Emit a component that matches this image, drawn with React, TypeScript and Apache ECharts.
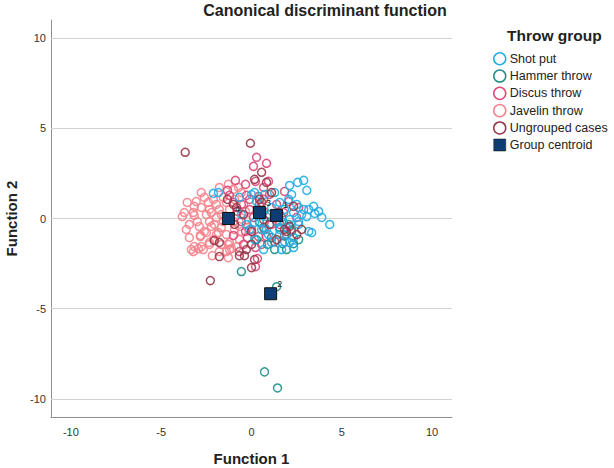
import React, { useEffect, useRef } from "react";
import * as echarts from "echarts";

const FONT = '"Liberation Sans", Arial, Helvetica, sans-serif';

// Axis tick / gridline values
const tickValues = [-10, -5, 0, 5, 10];

// Series colours
const colorShot = "#22ADE4";
const colorHammer = "#1F8E8A";
const colorDiscus = "#DC4676";
const colorJavelin = "#F7828C";
const colorUngrouped = "#98384A";
const colorCentroid = "#0D3D72";

// Data: [Function 1, Function 2]
const shotPut: number[][] = [
  [2.11, 1.83], [2.89, 2.11], [3.06, 1.56], [1.28, 1.44], [0.17, 1.44], [2.06, 1.06],
  [3.17, 0.5], [3.72, 0.39], [1.56, 0.89], [4.33, -0.33], [3.33, -0.78], [2.11, -0.06],
  [2.61, -0.33], [3.06, 0.11], [3.5, 0.28], [1.94, -0.5], [1.56, -0.89], [2.11, -1.33],
  [2.33, -1.06], [2.33, -1.61], [0.83, -0.61], [0.44, -0.22], [-0.11, -0.61], [0.83, 0.11],
  [1.39, -0.17], [1.56, -0.61], [0.17, -1.17], [1.11, -1.33], [-1.83, 1.44], [0.0, 1.33],
  [0.28, 0.94], [0.72, 1.33], [2.22, 1.33], [2.56, 2.0], [1.78, -0.22], [2.61, -0.17],
  [2.89, 0.5], [3.17, -0.72], [1.83, -1.28], [0.56, -0.61], [0.94, -0.89], [0.17, -0.22],
  [-2.11, 1.39], [1.11, 0.61], [1.83, 0.5], [2.5, 0.78], [2.78, 0.22], [3.89, 0.06],
  [-0.56, 0.22], [-0.28, -0.33], [0.67, -1.72], [1.67, -1.72], [2.33, 0.33], [3.44, 0.67],
  [-0.67, 1.17],
];

const hammerThrow: number[][] = [
  [0.89, -1.44], [1.72, -1.39], [1.83, -0.94], [2.33, -1.39], [0.44, -0.17], [0.67, -0.5],
  [1.56, -0.5], [2.22, -0.72], [-0.56, -2.94], [1.39, -3.78], [0.72, -8.5], [1.44, -9.39],
  [1.11, -1.06], [2.06, -0.33], [2.61, -1.17], [0.28, -1.17], [1.28, -1.72], [1.94, -1.72],
  [1.0, 0.22], [1.67, 0.06],
];

const discusThrow: number[][] = [
  [0.11, 2.89], [0.28, 3.39], [0.83, 3.06], [0.94, 2.06], [0.67, 1.72], [0.39, 1.22],
  [1.0, 1.33], [1.83, 1.5], [2.06, 0.94], [2.61, 0.61], [2.5, 0.06], [1.78, 0.33],
  [1.11, -0.33], [0.72, -0.61], [0.39, -1.0], [0.0, -0.61], [0.33, -2.22], [0.83, -1.0],
  [1.28, -1.28], [2.22, -0.61], [-0.28, 1.28], [-0.56, 0.78], [-0.11, 0.5], [0.11, 0.06],
  [-0.22, -1.06], [-0.44, -1.44], [-0.67, -1.83], [-1.0, 0.89], [-0.78, 0.39], [0.44, 0.78],
  [0.67, 0.39], [1.39, 0.78], [1.56, -0.33], [1.94, -0.89], [0.22, -1.61], [0.56, -1.44],
  [-1.22, 1.28], [-0.89, 2.11], [-0.33, 1.89], [0.22, 2.06], [0.67, 1.06], [-0.11, 1.06],
  [-0.56, -0.17], [-0.33, -0.72], [-1.0, -0.94], [0.22, -2.67], [-1.33, 1.56],
];

const javelinThrow: number[][] = [
  [-3.83, 0.11], [-3.17, 0.17], [-2.83, -0.94], [-2.5, -0.78], [-3.22, -1.83], [-2.94, -1.67],
  [-2.67, -1.72], [-2.33, -1.44], [-2.11, -1.17], [-1.83, -0.78], [-1.67, -0.5], [-1.39, -0.89],
  [-1.22, -1.33], [-1.11, -1.67], [-1.39, -1.83], [-2.06, -0.33], [-2.33, -0.17], [-2.22, 0.33],
  [-1.67, 0.22], [-1.94, 0.06], [-0.94, -0.61], [-0.67, -0.44], [-0.67, -1.17], [-2.78, 1.44],
  [-2.61, 1.17], [-3.06, 0.94], [-3.17, 0.67], [-2.78, 0.61], [-2.39, 0.89], [-2.11, 1.06],
  [-1.56, 1.17], [-1.39, 0.89], [-1.0, 1.61], [-0.72, 1.72], [-0.56, 1.44], [-1.22, 0.5],
  [-1.78, 0.5], [-2.33, 0.5], [-3.72, 0.33], [-3.22, 0.33], [-1.28, 1.89], [-2.89, -0.44],
  [-2.61, -0.72], [-2.22, -0.44], [-1.94, -0.89], [-2.83, -1.0], [-2.33, -1.33], [-3.17, -1.56],
  [-2.78, -1.56], [-1.67, -1.44], [-1.28, -1.44], [-3.33, -1.72], [-1.22, -1.72], [-1.28, -2.17],
  [-3.56, 0.89], [-1.78, 1.72], [-0.94, 1.06], [-0.44, 0.78], [-0.83, 0.22], [-0.28, -0.06],
  [-0.56, -0.72], [-1.0, -0.17], [-1.56, -0.17], [-1.94, 0.78], [-2.5, 0.22], [-3.0, -0.17],
  [-3.44, -0.33], [-0.33, 0.39], [-0.22, -0.5], [-0.78, -1.56], [-1.78, -1.83], [-2.17, -2.06],
  [-3.44, -1.06], [-3.61, -0.61],
];

const ungroupedCases: number[][] = [
  [-3.67, 3.67], [-0.06, 4.17], [-2.28, -3.44], [-1.78, -2.11], [-0.67, -2.06], [-0.39, -2.06],
  [-2.06, -1.22], [-0.83, 0.61], [0.83, 2.0], [1.11, 1.44], [0.56, 0.89], [0.67, -0.06],
  [0.0, -0.72], [-0.28, -1.72], [2.11, -0.44], [0.17, 2.17], [0.56, 2.56], [2.5, -0.89],
  [1.94, -0.72], [0.0, -1.44], [0.17, -2.28], [0.0, -2.72], [2.33, 0.67], [1.83, -0.61],
  [0.44, 1.06], [-1.0, 0.78], [-1.33, 1.06], [-1.78, -1.33], [1.5, 0.33], [1.39, -1.17],
  [2.78, -0.61], [1.0, -0.33], [-0.44, 0.22], [-0.94, -0.33],
];

const centroidPoints: number[][] = [
  [1.39, 0.17], [1.06, -4.17], [0.44, 0.33], [-1.28, 0.0],
];
const centroidLabels = ["1", "2", "3", "4"];

const groupNames = [
  "Shot put", "Hammer throw", "Discus throw", "Javelin throw", "Ungrouped cases", "Group centroid",
];

function hollow(name: string, data: number[][], color: string) {
  return {
    type: "scatter",
    name,
    data,
    symbol: "circle",
    symbolSize: 8,
    itemStyle: { color: "rgba(0,0,0,0)", borderColor: color, borderWidth: 1.5, opacity: 0.9 },
    emphasis: { disabled: true },
  };
}

function tickFormatter(v: number) {
  return tickValues.some((t) => Math.abs(t - v) < 1e-6) ? String(v) : "";
}

export default function App() {
  const ref = useRef<HTMLDivElement>(null);

  useEffect(() => {
    if (!ref.current) return;
    const chart = echarts.init(ref.current, null, { renderer: "svg" });
    const legendIcon = (color: string) => ({
      icon: "circle",
      itemStyle: { color: "rgba(0,0,0,0)", borderColor: color, borderWidth: 1.5, opacity: 1 },
    });
    const option: any = {
      animation: false,
      backgroundColor: "#ffffff",
      textStyle: { fontFamily: FONT },
      title: [
        {
          text: "Canonical discriminant function",
          left: 325,
          top: 2,
          textAlign: "center",
          padding: 0,
          textStyle: { fontFamily: FONT, fontSize: 16, fontWeight: "bold", color: "#222" },
        },
        {
          text: "Throw group",
          left: 507,
          top: 27,
          padding: 0,
          textStyle: { fontFamily: FONT, fontSize: 15.5, fontWeight: "bold", color: "#222" },
        },
      ],
      legend: {
        orient: "vertical",
        left: 493,
        top: 52,
        padding: 0,
        itemWidth: 12,
        itemHeight: 12,
        itemGap: 3.8,
        selectedMode: false,
        textStyle: { fontFamily: FONT, fontSize: 12.5, color: "#222", padding: [0, 0, 0, -1] },
        data: [
          { name: groupNames[0], ...legendIcon(colorShot) },
          { name: groupNames[1], ...legendIcon(colorHammer) },
          { name: groupNames[2], ...legendIcon(colorDiscus) },
          { name: groupNames[3], ...legendIcon(colorJavelin) },
          { name: groupNames[4], ...legendIcon(colorUngrouped) },
          {
            name: groupNames[5],
            icon: "rect",
            itemStyle: { color: colorCentroid, borderColor: "#111", borderWidth: 0.5, opacity: 1 },
          },
        ],
      },
      grid: { left: 51, right: 162, top: 20, bottom: 51, outerBoundsMode: "none" },
      xAxis: {
        type: "value",
        min: -11.1,
        max: 11.1,
        splitNumber: 4,
        axisLine: { show: true, onZero: false, lineStyle: { color: "#8f8f8f", width: 1 } },
        axisTick: { show: false },
        splitLine: { show: false },
        axisLabel: { color: "#333", fontSize: 11, margin: 9, formatter: tickFormatter },
        name: "Function 1",
        nameLocation: "middle",
        nameGap: 34,
        nameTextStyle: { fontFamily: FONT, fontSize: 15, fontWeight: "bold", color: "#222" },
      },
      yAxis: {
        type: "value",
        min: -11,
        max: 11,
        splitNumber: 4,
        axisLine: { show: true, onZero: false, lineStyle: { color: "#8f8f8f", width: 1 } },
        axisTick: { show: false },
        splitLine: { show: false },
        axisLabel: { color: "#333", fontSize: 11, margin: 5, formatter: tickFormatter },
        name: "Function 2",
        nameLocation: "middle",
        nameGap: 31,
        nameRotate: 90,
        nameTextStyle: { fontFamily: FONT, fontSize: 15, fontWeight: "bold", color: "#222" },
      },
      series: [
        {
          type: "scatter",
          name: "gridlines",
          data: [],
          silent: true,
          markLine: {
            silent: true,
            z: 1,
            symbol: ["none", "none"],
            label: { show: false },
            lineStyle: { color: "#d2d2d2", width: 1.2, type: "solid" },
            data: tickValues.map((v) => ({ yAxis: v })),
          },
        },
        hollow(groupNames[3], javelinThrow, colorJavelin),
        hollow(groupNames[2], discusThrow, colorDiscus),
        hollow(groupNames[1], hammerThrow, colorHammer),
        hollow(groupNames[0], shotPut, colorShot),
        hollow(groupNames[4], ungroupedCases, colorUngrouped),
        {
          type: "scatter",
          name: groupNames[5],
          data: centroidPoints.map((p, i) => ({ value: p, label: { formatter: centroidLabels[i] } })),
          symbol: "rect",
          symbolSize: 12,
          z: 5,
          itemStyle: { color: colorCentroid, borderColor: "#111", borderWidth: 1, opacity: 1 },
          label: {
            show: true,
            position: "top",
            offset: [9, 6],
            fontSize: 9,
            color: "#222",
            fontFamily: FONT,
          },
          emphasis: { disabled: true },
        },
      ],
    };
    chart.setOption(option);
    return () => chart.dispose();
  }, []);

  return (
    <div
      ref={ref}
      style={{ position: "absolute", left: 0, top: 0, width: 614, height: 468, background: "#fff" }}
    />
  );
}
